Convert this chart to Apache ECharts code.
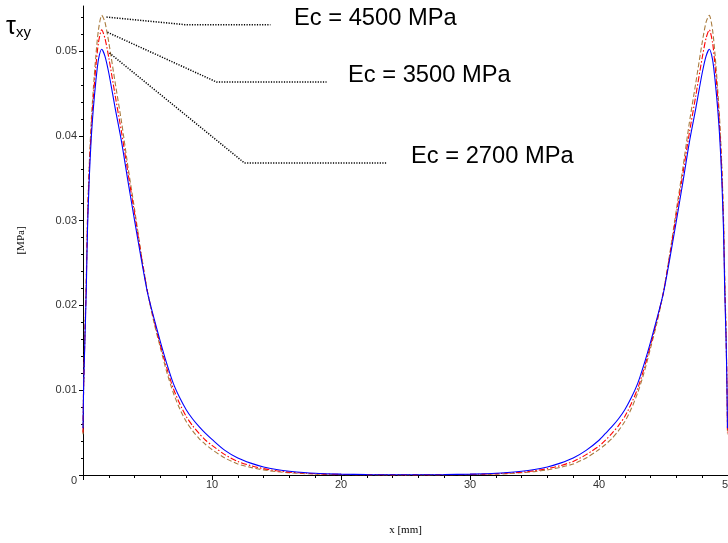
<!DOCTYPE html>
<html>
<head>
<meta charset="utf-8">
<script src="https://cdn.jsdelivr.net/npm/echarts@6/dist/echarts.min.js"></script>
<style>html,body{margin:0;padding:0;background:#fff}#c{width:728px;height:543px}</style>
</head>
<body>
<div id="c"></div>
<script>
// x positions [mm]
var xValues = [0, 0.05, 0.15, 0.25, 0.35, 0.5, 0.65, 0.8, 1.0, 1.2, 1.45, 1.7, 2.0, 2.5, 3, 3.5, 4, 4.5, 5, 5.5, 6, 6.5, 7, 7.5, 8, 8.5, 9, 9.5, 10, 11, 12, 13, 14, 15, 16, 18, 20, 22, 25,
  28, 30, 32, 34, 35, 36, 37, 38, 39, 40, 40.5, 41, 41.5, 42, 42.5, 43, 43.5, 44, 44.5, 45, 45.5, 46, 46.5, 47, 47.5, 48, 48.3, 48.55, 48.8, 49, 49.2, 49.35, 49.5, 49.65, 49.75, 49.85, 49.92, 49.96];

// tau_xy [MPa], Ec = 2700 MPa (blue, solid)
var tau2700 = [0.0055, 0.0105, 0.0160, 0.0215, 0.0290, 0.0355, 0.0400, 0.0432, 0.0465, 0.0490, 0.0502, 0.0494, 0.0474, 0.0432, 0.0392, 0.0345, 0.0300, 0.0256, 0.0215, 0.0185, 0.0157, 0.0131, 0.0108, 0.0091, 0.0077, 0.0066, 0.0057, 0.0049, 0.0042, 0.0029, 0.0020, 0.0014, 0.00095, 0.00065, 0.00045, 0.0002, 0.0001, 0.00005, 0.00003,
  0.00005, 0.0001, 0.0002, 0.00045, 0.00065, 0.00095, 0.0014, 0.0020, 0.0029, 0.0041, 0.0049, 0.0057, 0.0066, 0.0077, 0.0091, 0.0108, 0.0131, 0.0157, 0.0185, 0.0215, 0.0256, 0.0300, 0.0345, 0.0392, 0.0432, 0.0474, 0.0494, 0.0502, 0.0490, 0.0465, 0.0432, 0.0400, 0.0355, 0.0290, 0.0215, 0.0160, 0.0105, 0.0055];

// Ec = 3500 MPa (red, dash-dot)
var tau3500 = [0.0050, 0.0105, 0.0165, 0.0225, 0.0300, 0.0365, 0.0410, 0.0445, 0.0482, 0.0510, 0.0525, 0.0515, 0.0492, 0.0447, 0.0403, 0.0355, 0.0308, 0.0260, 0.0216, 0.0183, 0.0153, 0.0126, 0.0102, 0.0084, 0.0069, 0.0058, 0.0049, 0.0041, 0.0035, 0.0024, 0.0016, 0.0011, 0.00075, 0.0005, 0.00033, 0.00015, 0.00007, 0.00003, 0.00001,
  0.00003, 0.00007, 0.00015, 0.00033, 0.0005, 0.00075, 0.0011, 0.0016, 0.0024, 0.0034, 0.0041, 0.0049, 0.0058, 0.0069, 0.0084, 0.0102, 0.0126, 0.0153, 0.0183, 0.0216, 0.0260, 0.0308, 0.0355, 0.0403, 0.0447, 0.0492, 0.0515, 0.0525, 0.0510, 0.0482, 0.0445, 0.0410, 0.0365, 0.0300, 0.0225, 0.0165, 0.0105, 0.0050];

// Ec = 4500 MPa (brown, dashed)
var tau4500 = [0.0048, 0.0105, 0.0170, 0.0230, 0.0305, 0.0372, 0.0420, 0.0455, 0.0495, 0.0525, 0.0542, 0.0534, 0.0510, 0.0462, 0.0415, 0.0362, 0.0313, 0.0262, 0.0216, 0.0180, 0.0150, 0.0121, 0.0097, 0.0078, 0.0063, 0.0052, 0.0043, 0.0036, 0.0030, 0.0020, 0.0013, 0.0009, 0.0006, 0.0004, 0.00026, 0.0001, 0.00004, 0.00002, 0.00001,
  0.00002, 0.00004, 0.0001, 0.00026, 0.0004, 0.0006, 0.0009, 0.0013, 0.0020, 0.0030, 0.0036, 0.0043, 0.0052, 0.0063, 0.0078, 0.0097, 0.0121, 0.0150, 0.0180, 0.0216, 0.0262, 0.0313, 0.0362, 0.0415, 0.0462, 0.0510, 0.0534, 0.0542, 0.0525, 0.0495, 0.0455, 0.0420, 0.0372, 0.0305, 0.0230, 0.0170, 0.0105, 0.0048];

// annotation leaders (data coordinates)
var leaderX4500 = [1.82, 7.87, 14.53];
var leaderY4500 = [0.0540, 0.0531, 0.0531];
var leaderX3500 = [1.90, 10.35, 18.88];
var leaderY3500 = [0.0522, 0.04634, 0.04634];
var leaderX2700 = [2.05, 12.52, 23.6];
var leaderY2700 = [0.04976, 0.03679, 0.03679];

var seriesNames = ['Ec = 4500 MPa', 'Ec = 3500 MPa', 'Ec = 2700 MPa'];
var yTicks = [0, 0.01, 0.02, 0.03, 0.04, 0.05];

function pairs(xs, ys) { return xs.map(function (x, i) { return [x, ys[i]]; }); }

var chart = echarts.init(document.getElementById('c'), null, {renderer: 'canvas'});
var sans = '"Liberation Sans", Arial, sans-serif';
var serif = '"Liberation Serif", "Times New Roman", serif';

function curve(name, ys, color, dash, z) {
  return {
    name: name, type: 'line', data: pairs(xValues, ys), showSymbol: false, symbol: 'none',
    smooth: 0.25, z: z, silent: true,
    lineStyle: {color: color, width: 1.1, type: dash}
  };
}
function leader(xs, ys) {
  return {
    type: 'line', data: pairs(xs, ys), showSymbol: false, symbol: 'none', silent: true, z: 5,
    lineStyle: {color: '#000', width: 1.5, type: [1.2, 1.4]}
  };
}

chart.setOption({
  animation: false,
  grid: {left: 83, right: 0, top: 6, bottom: 68, containLabel: false, outerBoundsMode: 'none'},
  xAxis: {
    type: 'value', min: 0, max: 50, interval: 10,
    name: 'x [mm]', nameLocation: 'middle', nameGap: 50,
    nameTextStyle: {fontFamily: serif, fontSize: 11, color: '#000'},
    axisLine: {show: true, onZero: false, lineStyle: {color: '#000', width: 1}},
    axisTick: {show: true, length: 5, lineStyle: {color: '#000'}},
    minorTick: {show: true, splitNumber: 5, length: 3, lineStyle: {color: '#000'}},
    splitLine: {show: false},
    axisLabel: {showMinLabel: false, margin: 4, fontFamily: sans, fontSize: 11, color: '#333', hideOverlap: false}
  },
  yAxis: {
    type: 'value', min: 0, max: 0.0553, interval: 0.01,
    name: '[MPa]', nameLocation: 'middle', nameGap: 56, nameRotate: 90,
    nameTextStyle: {fontFamily: serif, fontSize: 11, color: '#000'},
    axisLine: {show: true, lineStyle: {color: '#000', width: 1}},
    axisTick: {show: true, length: 4, customValues: yTicks, lineStyle: {color: '#000'}},
    minorTick: {show: true, splitNumber: 5, length: 2, lineStyle: {color: '#000'}},
    splitLine: {show: false},
    axisLabel: {
      customValues: yTicks, margin: 6, fontFamily: sans, fontSize: 11, color: '#333',
      formatter: function (v) { return v === 0 ? '{z|0}' : v.toFixed(2); },
      rich: {z: {fontFamily: sans, fontSize: 11, color: '#333', padding: [12, 0, 0, 0]}}
    }
  },
  series: [
    curve(seriesNames[0], tau4500, '#a97b3e', [5, 2.5], 2),
    curve(seriesNames[1], tau3500, '#ff0000', [6, 2, 1.5, 2], 3),
    curve(seriesNames[2], tau2700, '#0000ff', 'solid', 4),
    leader(leaderX4500, leaderY4500),
    leader(leaderX3500, leaderY3500),
    leader(leaderX2700, leaderY2700)
  ],
  graphic: [
    {type: 'text', left: 6, top: 15, style: {
      text: '{t|τ}{s|xy}', rich: {
        t: {fontFamily: sans, fontSize: 25, fill: '#000'},
        s: {fontFamily: sans, fontSize: 15, fill: '#000', padding: [11, 0, 0, 0]}
      }}},
    {type: 'text', left: 294, top: 6, style: {text: seriesNames[0], fontFamily: sans, fontSize: 23.7, fill: '#000'}},
    {type: 'text', left: 348, top: 63, style: {text: seriesNames[1], fontFamily: sans, fontSize: 23.7, fill: '#000'}},
    {type: 'text', left: 411, top: 144, style: {text: seriesNames[2], fontFamily: sans, fontSize: 23.7, fill: '#000'}}
  ]
});
</script>
</body>
</html>
